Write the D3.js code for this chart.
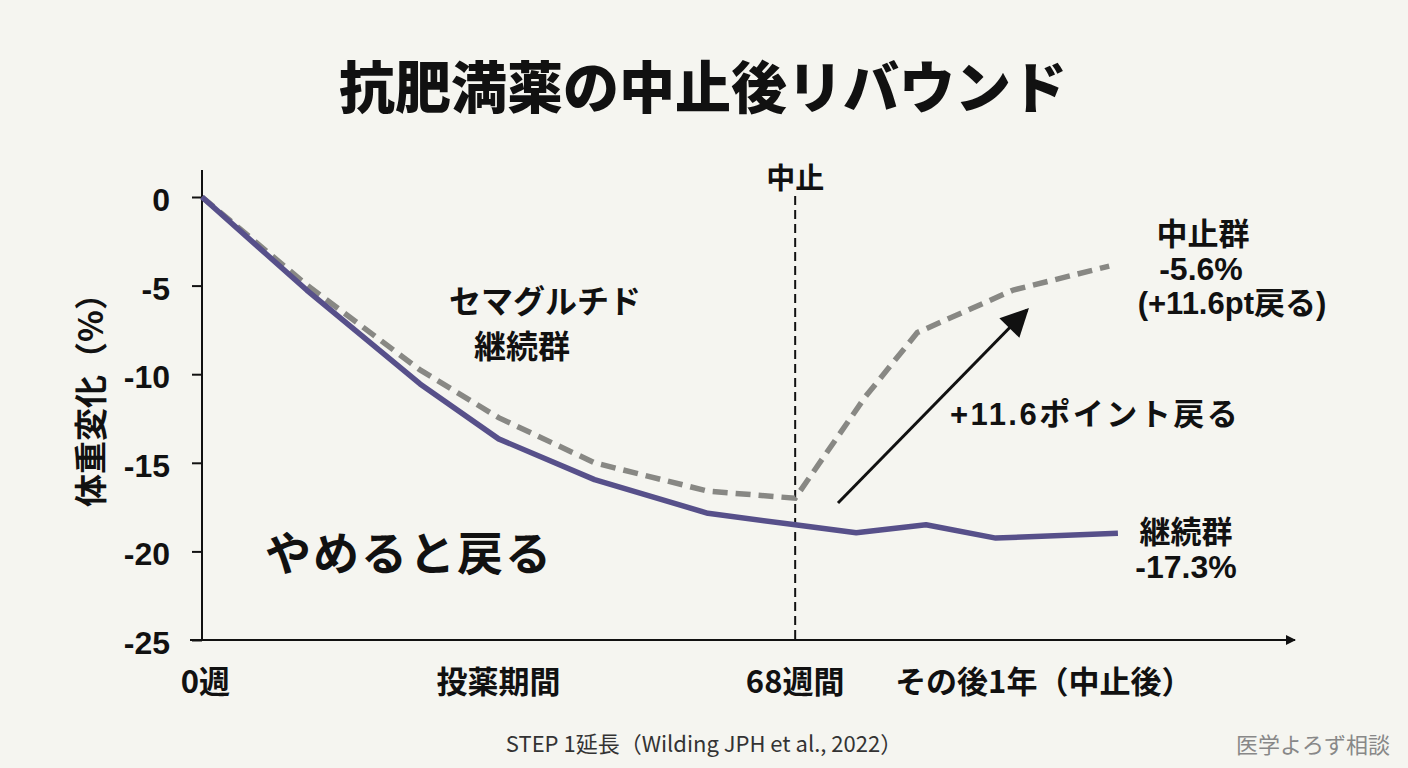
<!DOCTYPE html>
<html>
<head>
<meta charset="utf-8">
<script src="https://cdn.jsdelivr.net/npm/d3@7"></script>
<style>
  body { margin: 0; background: #f5f5f0; }
  svg { display: block; }
</style>
</head>
<body>
<div id="chart"></div>
<script>
// data (x in weeks, y in % weight change)
const contWeeks = [0, 12, 25, 34, 45, 58, 68, 75, 83, 91, 105];
const contValues = [0, -5.25, -10.55, -13.65, -15.95, -17.85, -18.5, -18.95, -18.5, -19.25, -18.97];
const stopWeeks = [0, 12, 25, 34, 45, 58, 68, 76, 82, 93, 104];
const stopValues = [0, -4.96, -9.76, -12.45, -15.0, -16.6, -17.0, -11.3, -7.65, -5.25, -3.9];
const yTicks = [0, -5, -10, -15, -20, -25];
const xLabelWeeks = [0.4, 34, 68, 96.5];
const xLabelTexts = ['0週', '投薬期間', '68週間', 'その後1年（中止後）'];
const stopWeek = 68;

const W = 1408, H = 768;
const JP = '"Noto Sans CJK JP", sans-serif';
const MIX = '"Liberation Sans", "Noto Sans CJK JP", sans-serif';

const svg = d3.select('#chart').append('svg')
    .attr('width', W)
    .attr('height', H);

svg.append('rect').attr('width', W).attr('height', H).attr('fill', '#f5f5f0');

const x = d3.scaleLinear().domain([0, 125.3]).range([202, 1295]);
const y = d3.scaleLinear().domain([-25, 0]).range([640, 197]);

// markers
const defs = svg.append('defs');
defs.append('marker')
    .attr('id', 'axisHead')
    .attr('viewBox', '0 0 10 10')
    .attr('refX', 9).attr('refY', 5)
    .attr('markerWidth', 14).attr('markerHeight', 10)
    .attr('markerUnits', 'userSpaceOnUse')
    .attr('orient', 'auto')
    .append('path').attr('d', 'M0,0 L10,5 L0,10 Z').attr('fill', '#111');
defs.append('marker')
    .attr('id', 'arrowHead')
    .attr('viewBox', '0 0 10 10')
    .attr('refX', 9).attr('refY', 5)
    .attr('markerWidth', 32).attr('markerHeight', 28)
    .attr('markerUnits', 'userSpaceOnUse')
    .attr('orient', 'auto')
    .append('path').attr('d', 'M0,0 L10,5 L0,10 Z').attr('fill', '#111');

// title
svg.append('text')
    .attr('x', 703).attr('y', 108)
    .attr('text-anchor', 'middle')
    .style('font-family', JP).style('font-weight', 900).style('font-size', '56px')
    .attr('fill', '#111')
    .text('抗肥満薬の中止後リバウンド');

// Y axis
const yAxis = svg.append('g')
    .attr('transform', `translate(${x(0)},0)`)
    .call(d3.axisLeft(y).tickValues(yTicks).tickFormat(d => String(d))
        .tickSize(10).tickSizeOuter(0).tickPadding(22));
yAxis.select('.domain').remove();
yAxis.selectAll('line').attr('stroke', '#111').attr('stroke-width', 2);
yAxis.selectAll('text')
    .attr('dy', '0.42em')
    .style('font-family', MIX).style('font-weight', 700).style('font-size', '32px')
    .attr('fill', '#111');

svg.append('line')
    .attr('x1', x(0)).attr('x2', x(0))
    .attr('y1', 170).attr('y2', y(-25))
    .attr('stroke', '#111').attr('stroke-width', 2);

// X axis with arrow
svg.append('line')
    .attr('x1', 190).attr('x2', x(125.3))
    .attr('y1', y(-25)).attr('y2', y(-25))
    .attr('stroke', '#111').attr('stroke-width', 2)
    .attr('marker-end', 'url(#axisHead)');

svg.append('g').selectAll('text')
    .data(xLabelTexts)
    .enter().append('text')
    .attr('x', (d, i) => x(xLabelWeeks[i]))
    .attr('y', 693)
    .attr('text-anchor', 'middle')
    .style('font-family', JP).style('font-weight', 700).style('font-size', '31px')
    .attr('fill', '#111')
    .text(d => d);

// Y axis title
svg.append('text')
    .attr('transform', 'translate(89,392) rotate(-90)')
    .attr('text-anchor', 'middle')
    .attr('dominant-baseline', 'central')
    .style('font-family', JP).style('font-weight', 700).style('font-size', '33px')
    .attr('fill', '#111')
    .text('体重変化（%）');

// stop line
svg.append('line')
    .attr('x1', x(stopWeek)).attr('x2', x(stopWeek))
    .attr('y1', 196).attr('y2', y(-25))
    .attr('stroke', '#111').attr('stroke-width', 2)
    .attr('stroke-dasharray', '9,5');
svg.append('text')
    .attr('x', x(stopWeek)).attr('y', 189)
    .attr('text-anchor', 'middle')
    .style('font-family', JP).style('font-weight', 700).style('font-size', '29px')
    .attr('fill', '#111')
    .text('中止');

// lines
const line = d3.line().x(d => x(d[0])).y(d => y(d[1]));

svg.append('path')
    .datum(stopWeeks.map((w, i) => [w, stopValues[i]]))
    .attr('d', line)
    .attr('fill', 'none')
    .attr('stroke', '#888884')
    .attr('stroke-width', 5.5)
    .attr('stroke-dasharray', '15,8');

svg.append('path')
    .datum(contWeeks.map((w, i) => [w, contValues[i]]))
    .attr('d', line)
    .attr('fill', 'none')
    .attr('stroke', '#57508a')
    .attr('stroke-width', 5.5)
    .attr('stroke-linejoin', 'round');

// rebound arrow
svg.append('line')
    .attr('x1', 838).attr('y1', 503)
    .attr('x2', 1027).attr('y2', 310)
    .attr('stroke', '#111').attr('stroke-width', 3)
    .attr('marker-end', 'url(#arrowHead)');

// annotations
function label(tx, ty, txt, size, anchor, spacing) {
    svg.append('text')
        .attr('x', tx).attr('y', ty)
        .attr('text-anchor', anchor || 'middle')
        .style('font-family', MIX).style('font-weight', 700).style('font-size', size + 'px')
        .style('letter-spacing', (spacing || 0) + 'px')
        .attr('fill', '#111')
        .text(txt);
}
label(545, 313, 'セマグルチド', 32);
label(522, 358, '継続群', 32);
label(265, 570, 'やめると戻る', 46, 'start', 2);
label(950, 425, '+11.6ポイント戻る', 31, 'start', 2.5);
label(1203, 245, '中止群', 31);
label(1201, 280, '-5.6%', 32);
label(1232, 314, '(+11.6pt戻る)', 31);
label(1186, 543, '継続群', 31);
label(1186, 578, '-17.3%', 32);

// source + watermark
svg.append('text')
    .attr('x', 704).attr('y', 752)
    .attr('text-anchor', 'middle')
    .style('font-family', JP).style('font-size', '22px')
    .attr('fill', '#333')
    .text('STEP 1延長（Wilding JPH et al., 2022）');
svg.append('text')
    .attr('x', 1390).attr('y', 753)
    .attr('text-anchor', 'end')
    .style('font-family', JP).style('font-size', '22px')
    .attr('fill', '#888')
    .text('医学よろず相談');
</script>
</body>
</html>
